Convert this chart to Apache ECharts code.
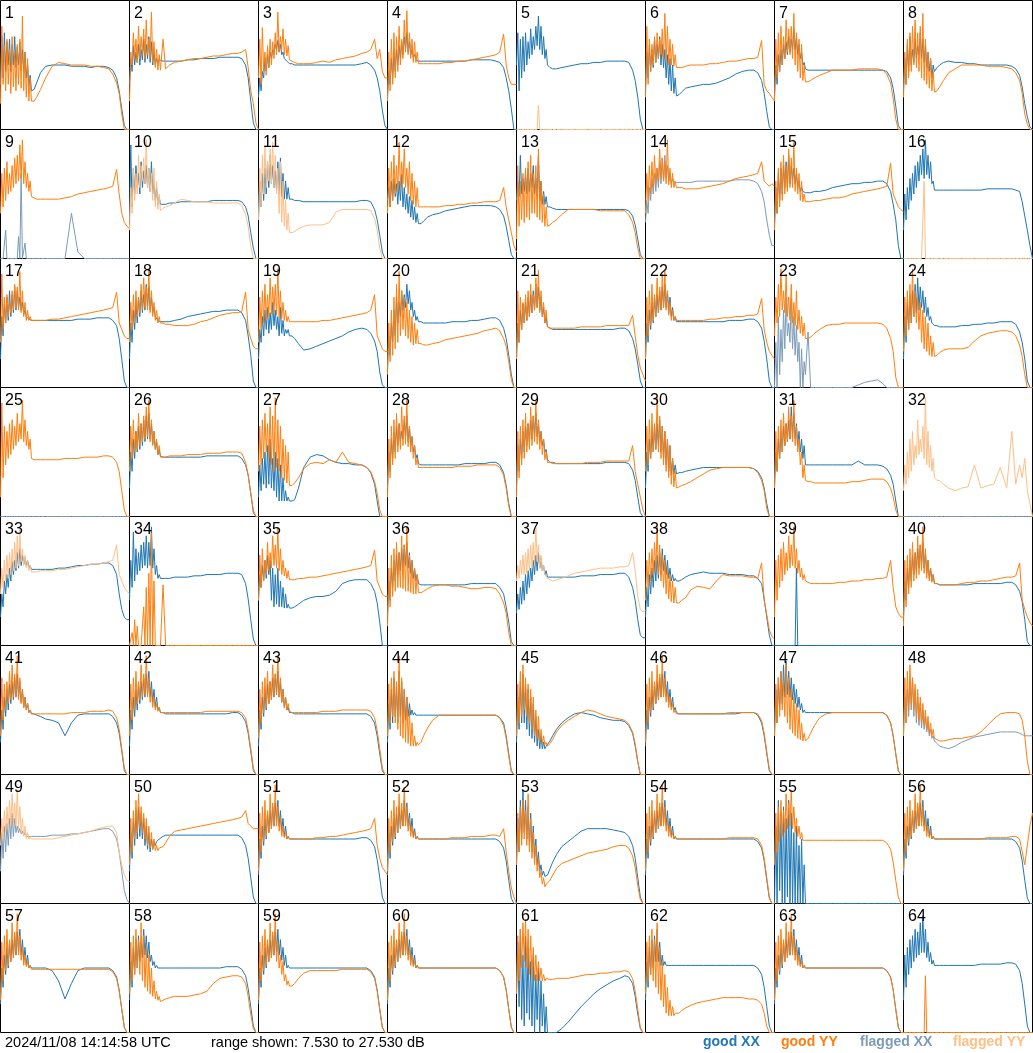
<!DOCTYPE html>
<html><head><meta charset="utf-8">
<script src="https://cdn.jsdelivr.net/npm/echarts/dist/echarts.min.js"></script>
<style>html,body{margin:0;padding:0;background:#fff}#c{width:1033px;height:1053px}</style>
</head><body><div id="c"></div><script>
// x: position in the band (percent); y values: percent of the shown range 7.530–27.530 dB
const channels = [0,1,2,3,4,5,6,7,8,9,10,11,12,13,14,15,16,17,18,19,20,21,22,23,24,26,28,31,35,40,45,50,55,60,65,70,75,80,84,87,90,92,94,96,98,100];

const xx01 = [35,72,40,75,45,68,50,70,45,66,50,72,48,64,50,68,46,62,44,60,40,50,34,42,30, 31,36,44,49,50,50,50,49,49,49,48,49,49,48,46,40,30,16,3,0,0];
const yy01 = [20,80,35,65,30,70,35,62,28,72,33,60,30,66,35,70,32,88,30,60,25,55,22,40,22, 22,25,31,40,49,52,51,50,50,50,49,49,48,47,43,36,28,12,0,0,0];
const xx02 = [35,55,45,65,50,60,52,66,50,62,54,70,52,66,55,72,52,68,50,60,50,55,52,54,53, 53,53,53,53,53,54,54,55,55,55,56,56,56,56,55,50,40,22,5,0,0];
const yy02 = [22,60,50,75,55,70,52,80,55,72,58,78,55,85,58,70,55,91,52,68,48,62,46,58,46, 70,47,50,52,53,54,55,55,56,57,57,58,59,59,60,62,48,30,20,5,0];
const xx03 = [25,40,30,45,40,55,45,58,48,60,55,62,58,66,62,69,60,66,58,60,55,56,53,52,51, 51,50,50,50,50,50,50,50,50,50,50,50,51,52,50,46,40,30,15,3,0];
const yy03 = [40,70,35,79,45,60,42,65,48,70,50,68,55,75,58,91,60,72,62,78,58,70,57,65,54, 53,52,51,51,51,52,53,52,54,55,56,57,59,60,62,70,55,62,45,40,40];
const xx04 = [25,45,35,55,40,60,45,62,50,65,55,68,58,72,62,75,60,68,58,62,56,58,54,54,53, 53,53,53,53,53,53,53,53,53,54,54,54,54,53,52,48,40,30,16,0,0];
const yy04 = [22,60,30,70,35,75,40,72,45,80,50,70,55,85,60,92,58,75,55,70,52,68,52,60,51, 51,51,51,51,51,52,52,53,53,54,55,56,57,58,60,74,50,40,35,35,35];
const xx05 = [50,75,30,70,40,72,45,75,50,68,55,78,58,72,62,80,65,88,62,80,58,72,55,62,50, 48,47,47,48,49,50,51,51,52,52,53,53,53,53,52,46,38,25,8,0,0];
const yy05 = [0,0,0,0,0,0,0,0,0,0,0,0,0,0,0,0,0,19,0,0,0,0,0,0,0, 0,0,0,0,0,0,0,0,0,0,0,0,0,0,0,0,0,0,0,0,0];
const xx06 = [30,60,40,65,45,62,48,70,52,66,55,72,50,66,48,62,40,58,35,55,30,50,28,40,26, 27,29,32,33,34,35,35,36,38,40,43,45,46,46,44,38,28,14,2,0,0];
const yy06 = [25,80,35,70,45,66,50,72,52,75,55,70,58,78,55,90,52,80,50,70,50,66,49,58,48, 48,48,49,50,50,50,51,51,52,53,53,54,55,55,56,69,35,30,28,25,22];
const xx07 = [25,50,35,58,45,62,50,66,55,68,58,72,60,70,62,78,62,72,58,66,55,60,50,52,47, 46,46,46,46,46,46,46,46,46,46,46,46,46,46,45,40,32,18,3,0,0];
const yy07 = [22,70,40,75,45,80,50,72,55,85,60,78,58,80,55,90,50,75,45,70,40,66,38,50,37, 37,38,40,42,44,46,46,46,46,47,47,47,47,46,43,36,24,8,0,0,0];
const xx08 = [30,55,35,66,45,72,50,62,52,70,55,65,58,75,55,70,52,66,48,60,45,55,40,50,45, 48,50,52,53,52,52,51,51,50,50,50,50,50,49,47,42,33,20,10,2,0];
const yy08 = [25,60,35,70,40,75,45,80,50,85,48,75,45,80,40,90,38,70,35,60,32,55,30,45,29, 30,33,38,44,47,50,50,50,50,49,49,49,48,47,44,38,28,12,4,0,0];
const xx09 = [0,0,0,0,22,0,0,0,0,0,0,0,0,0,17,0,66,0,0,12,0,0,0,0,0, 0,0,0,0,0,0,0,35,5,0,0,0,0,0,0,0,0,0,0,0,0];
const yy09 = [35,66,40,70,45,75,50,66,52,72,55,78,58,80,60,88,62,92,58,75,55,66,52,60,48, 47,46,46,46,46,46,47,48,50,51,52,53,54,55,56,69,50,35,28,25,23];
const xx10 = [30,88,40,70,50,72,55,66,50,75,55,68,58,72,55,70,52,75,50,60,45,55,42,48,42, 42,42,43,43,44,44,44,44,44,45,45,45,45,45,44,40,33,20,8,0,0];
const yy10 = [22,55,35,70,45,66,50,80,55,72,60,78,58,92,55,70,52,66,45,70,40,60,38,50,37, 39,40,41,43,46,45,44,44,44,43,43,43,43,43,41,34,25,10,0,0,0];
const xx11 = [30,60,40,66,45,70,50,75,55,80,58,72,55,68,52,75,50,78,48,66,46,60,46,55,46, 46,45,45,44,44,44,44,44,44,44,44,44,45,45,44,38,30,18,5,0,0];
const yy11 = [30,70,40,80,50,88,55,75,60,85,58,90,55,80,50,70,35,75,28,60,25,45,22,35,20, 20,21,23,25,26,26,26,28,36,38,38,38,38,38,37,31,22,8,0,0,0];
const xx12 = [45,55,40,60,45,62,48,58,42,60,45,65,40,55,38,50,35,48,32,45,30,40,28,35,27, 27,29,32,34,35,37,38,39,40,41,41,41,41,40,38,33,25,14,3,0,0];
const yy12 = [35,70,40,75,45,80,50,72,52,90,55,75,58,85,55,70,50,75,45,66,42,60,40,55,40, 40,40,40,40,40,41,41,42,42,43,43,44,44,44,45,55,40,30,20,10,5];
const xx13 = [45,60,48,80,50,62,52,66,50,70,52,66,55,72,50,62,48,80,45,60,42,52,42,48,40, 40,39,38,38,38,38,38,38,38,38,38,38,38,38,37,33,26,15,3,0,0];
const yy13 = [15,72,25,60,30,66,28,70,32,75,30,80,35,66,35,72,32,85,30,60,28,50,25,40,25, 26,28,30,34,38,38,38,38,38,37,37,37,37,37,34,28,20,8,0,0,0];
const xx14 = [28,45,35,55,45,62,50,66,52,70,55,75,58,78,60,80,62,72,60,66,58,62,59,60,59, 59,59,59,59,60,60,60,60,60,60,61,61,61,60,58,52,44,30,18,10,10];
const yy14 = [35,66,45,72,50,75,55,80,58,70,60,85,62,78,60,75,58,92,57,70,55,66,55,60,55, 55,55,54,54,54,55,56,57,58,60,62,63,64,65,66,75,60,58,56,58,56];
const xx15 = [25,55,35,66,45,70,50,72,55,75,55,80,58,72,60,70,58,66,55,60,52,55,52,52,51, 51,51,52,52,53,55,56,57,58,58,59,59,60,60,58,52,42,30,10,0,0];
const yy15 = [22,60,35,70,40,75,45,80,50,72,52,85,55,78,55,90,52,70,50,66,45,60,44,50,44, 44,44,45,45,46,47,47,48,50,51,52,53,54,55,56,74,50,45,40,38,36];
const xx16 = [22,50,30,55,38,62,45,66,50,72,55,75,60,80,65,85,62,92,65,80,62,75,58,60,53, 53,53,53,53,53,53,53,53,53,54,54,54,54,54,53,52,44,33,22,10,0];
const yy16 = [0,0,0,0,0,0,0,0,0,0,0,0,0,0,0,0,60,0,0,0,0,0,0,0,0, 0,0,0,0,0,0,0,0,0,0,0,0,0,0,0,0,0,0,0,0,0];
const xx17 = [22,55,40,65,50,70,52,75,55,72,58,78,60,75,62,70,60,66,57,60,55,56,53,53,52, 52,52,52,52,52,52,52,52,53,53,53,54,54,54,52,48,38,22,5,0,0];
const yy17 = [35,88,45,70,50,72,55,66,58,75,60,80,62,78,60,90,58,75,55,66,52,60,52,55,52, 52,52,52,52,53,53,54,55,56,57,58,59,60,61,62,74,50,45,40,38,38];
const xx18 = [22,50,35,60,45,66,50,70,55,75,58,72,60,80,62,78,60,70,58,62,55,56,52,52,51, 51,51,51,52,53,55,56,57,58,59,59,60,60,60,58,52,40,25,5,0,0];
const yy18 = [35,66,45,72,50,75,55,70,58,80,60,85,62,78,60,92,58,75,55,66,52,60,50,55,50, 50,49,49,48,48,48,49,51,52,54,56,57,58,58,59,74,45,38,32,30,30];
const xx19 = [22,45,35,55,40,60,45,62,42,58,45,66,48,60,45,55,40,62,42,52,40,45,42,45,40, 40,38,34,29,30,32,34,36,38,40,43,45,46,45,42,36,28,12,2,0,0];
const yy19 = [35,70,45,75,50,80,52,72,55,85,57,78,58,80,56,92,55,75,53,66,52,60,51,55,51, 51,51,51,51,51,51,52,52,53,54,55,56,57,58,60,72,40,35,30,28,28];
const xx20 = [15,40,25,50,35,60,40,70,50,66,55,75,60,72,62,80,65,75,60,66,55,60,52,55,51, 51,50,50,50,50,50,51,51,51,52,52,53,54,54,52,46,38,25,10,0,0];
const yy20 = [10,50,20,60,25,70,30,80,35,90,40,75,45,70,40,66,38,60,35,55,33,50,34,45,34, 34,33,33,34,35,37,38,39,40,41,42,44,45,46,44,38,32,20,6,0,0];
const xx21 = [22,50,35,60,45,65,50,66,52,70,55,72,58,75,60,80,62,78,60,70,55,62,50,55,47, 46,45,45,45,45,45,45,45,45,45,45,45,46,46,44,38,30,18,5,0,0];
const yy21 = [22,75,35,70,45,66,50,72,52,75,55,80,58,72,60,85,62,91,58,75,55,66,50,60,47, 46,46,46,46,46,46,47,47,47,47,48,48,48,48,48,56,40,25,15,10,5];
const xx22 = [22,50,35,60,45,66,50,70,55,72,58,75,60,78,62,80,62,75,58,70,55,62,52,55,51, 51,51,51,51,51,51,51,51,51,52,52,52,53,53,51,46,36,22,5,0,0];
const yy22 = [22,70,40,75,48,80,52,72,55,85,58,78,60,88,62,91,60,75,56,66,52,60,52,55,52, 52,52,52,52,52,52,53,53,54,54,55,55,56,56,57,69,45,35,28,25,22];
const xx23 = [0,35,0,55,10,45,20,60,30,70,40,50,35,69,30,55,25,48,20,35,0,30,0,20,10, 43,0,0,0,0,0,0,0,0,2,4,5,6,3,0,0,0,0,0,0,0];
const yy23 = [40,70,50,80,55,92,60,75,58,88,55,70,52,80,50,66,48,75,45,60,42,55,40,50,38, 38,39,42,45,48,49,49,50,50,50,50,50,50,49,46,38,28,8,0,0,0];
const xx24 = [22,55,35,66,45,72,50,75,55,80,58,85,60,78,62,75,58,70,55,62,52,55,50,50,48, 48,47,47,47,47,48,48,49,49,50,50,51,51,51,49,43,35,22,5,0,0];
const yy24 = [28,70,40,75,45,80,50,92,55,75,50,70,45,66,35,60,30,55,28,50,25,40,24,35,24, 25,27,29,30,30,30,31,36,40,42,43,44,44,43,40,33,24,10,0,0,0];
const xx25 = [0,0,0,0,0,0,0,0,0,0,0,0,0,0,0,0,0,0,0,0,0,0,0,0,0, 0,0,0,0,0,0,0,0,0,0,0,0,0,0,0,0,0,0,0,0,0];
const yy25 = [15,88,30,70,40,66,45,72,48,75,52,70,55,80,58,72,60,90,58,75,55,66,52,60,45, 44,44,44,44,44,44,45,45,45,46,46,46,47,47,46,42,35,20,5,0,0];
const xx26 = [22,50,35,60,45,66,50,70,52,72,55,75,58,78,60,80,60,72,56,66,52,58,48,52,47, 46,46,46,46,46,46,46,46,47,47,47,47,47,47,45,40,32,18,3,0,0];
const yy26 = [35,70,45,75,50,66,52,80,55,72,58,78,60,85,62,90,58,75,55,66,52,60,48,55,46, 46,46,47,47,47,48,48,48,49,49,49,50,50,50,49,42,32,18,5,0,0];
const xx27 = [15,40,20,45,25,50,22,55,25,60,22,45,20,50,15,45,12,40,12,30,12,20,12,15,12, 12,13,22,38,46,48,47,44,42,41,41,40,40,38,34,25,12,0,0,0,0];
const yy27 = [35,70,40,75,45,80,50,72,45,85,40,78,35,92,38,75,35,70,30,60,28,55,26,50,24, 24,26,30,37,41,42,41,44,42,50,42,41,40,38,35,27,18,5,0,0,0];
const xx28 = [22,50,35,60,45,65,50,70,55,72,58,66,60,75,62,78,58,70,55,62,50,55,45,48,41, 40,40,40,40,40,40,40,40,41,41,41,41,42,42,40,34,24,10,0,0,0];
const yy28 = [15,60,30,70,40,75,45,80,50,72,52,85,55,78,56,90,54,70,50,62,45,55,40,45,38, 38,38,38,38,38,38,38,39,39,39,40,40,40,40,38,32,22,8,0,0,0];
const xx29 = [22,55,35,60,45,66,50,70,55,72,58,75,60,78,62,80,62,72,58,66,55,60,50,52,44, 42,42,41,41,41,41,41,41,41,41,42,42,42,42,41,36,28,15,3,0,0];
const yy29 = [15,66,30,70,40,75,45,80,50,72,52,85,55,78,58,90,56,75,52,66,48,60,44,50,42, 42,41,41,41,41,41,41,42,42,42,43,43,43,43,43,55,35,25,15,5,0];
const xx30 = [22,50,35,60,45,66,50,70,52,72,55,75,50,70,45,66,40,60,35,55,32,45,33,40,33, 34,34,35,36,37,38,38,38,38,38,38,38,38,37,35,30,22,10,0,0,0];
const yy30 = [35,70,40,75,45,80,50,72,52,92,50,78,45,70,40,66,35,60,30,55,25,45,23,35,22, 23,24,25,27,30,33,36,37,38,38,38,38,38,37,34,28,20,6,0,0,0];
const xx31 = [22,50,35,60,45,66,50,70,55,72,58,75,60,85,62,80,60,72,55,66,50,60,45,55,40, 40,40,40,40,40,40,40,40,40,43,40,40,40,39,37,32,25,12,0,0,0];
const yy31 = [22,66,35,70,45,75,50,80,55,72,58,85,60,78,58,90,55,70,50,60,40,50,30,40,28, 27,27,26,26,26,26,26,26,27,27,28,29,29,29,27,22,15,5,0,0,0];
const xx32 = [0,0,0,0,0,0,0,0,0,0,0,0,0,0,0,0,0,0,0,0,0,0,0,0,0, 0,0,0,0,0,0,0,0,0,0,0,0,0,0,0,0,0,0,0,0,0];
const yy32 = [20,40,25,50,30,60,35,66,40,55,45,75,48,60,50,70,45,92,40,66,38,55,35,45,30, 28,28,25,22,20,22,23,40,22,24,25,38,22,66,25,40,30,45,20,10,0];
const xx33 = [22,40,30,50,40,55,45,60,50,65,55,66,58,72,60,75,62,70,63,68,62,66,60,62,59, 59,59,59,59,59,60,60,61,62,62,63,63,64,64,62,55,40,28,22,20,20];
const yy33 = [40,60,45,66,50,70,52,72,55,75,58,80,60,85,62,90,65,75,62,70,60,66,58,62,57, 57,57,58,58,58,59,59,60,61,62,63,63,64,65,66,78,55,50,45,42,40];
const xx34 = [35,66,45,88,50,75,55,72,58,78,60,80,62,85,60,80,62,92,60,75,55,62,52,55,52, 52,52,52,53,53,53,54,54,55,55,55,56,56,56,55,48,36,20,5,0,0];
const yy34 = [0,0,10,0,20,0,15,0,0,0,0,30,0,45,0,56,0,87,0,50,0,0,0,0,0, 47,0,0,0,0,0,0,0,0,0,0,0,0,0,0,0,0,0,0,0,0];
const xx35 = [35,55,45,62,50,66,52,70,55,66,35,60,30,55,32,60,30,50,30,45,29,40,29,32,29, 29,30,32,35,37,38,38,39,42,48,50,51,51,51,48,42,33,18,0,0,0];
const yy35 = [35,70,45,75,50,66,55,80,58,72,60,85,62,78,60,91,58,75,55,66,54,60,52,58,51, 51,51,52,52,53,53,54,55,56,57,58,59,60,61,62,74,50,45,40,38,38];
const xx36 = [22,50,35,60,45,66,50,70,55,72,58,75,60,78,62,80,60,72,56,66,52,60,50,55,48, 47,47,47,47,47,47,47,47,47,48,48,48,48,48,45,40,30,18,3,0,0];
const yy36 = [15,60,30,70,38,75,42,80,45,72,45,85,44,78,42,92,42,70,41,66,40,60,40,55,41, 41,42,44,46,47,47,46,46,45,44,44,45,45,44,40,33,25,10,0,0,0];
const xx37 = [25,40,28,45,32,50,35,55,40,58,45,60,50,66,55,70,58,72,60,68,58,62,55,58,53, 53,53,53,53,53,53,54,54,54,55,55,55,56,56,53,45,35,20,8,6,6];
const yy37 = [50,62,52,66,55,70,55,72,56,75,58,78,60,80,62,92,65,78,60,70,58,62,55,56,52, 51,50,51,52,54,56,57,58,59,60,60,60,61,61,62,72,58,38,28,26,27];
const xx38 = [22,45,30,55,40,60,45,66,50,70,52,72,55,75,58,70,55,66,52,60,50,55,50,52,50, 50,51,53,55,56,57,56,56,56,55,55,55,54,54,52,48,36,22,8,0,0];
const yy38 = [35,66,45,72,50,75,55,80,58,92,55,78,50,70,45,66,40,60,36,55,34,50,33,45,33, 33,35,37,43,46,45,44,50,55,54,54,54,53,53,52,64,35,24,12,7,5];
const xx39 = [0,0,0,0,0,0,0,0,0,0,0,0,0,0,0,0,0,60,0,0,0,0,0,0,0, 0,0,0,0,0,0,0,0,0,0,0,0,0,0,0,0,0,0,0,0,0];
const yy39 = [22,66,35,70,45,75,50,80,55,72,58,85,60,78,62,92,60,75,56,66,53,60,51,55,50, 49,48,48,48,48,48,49,49,50,50,51,51,52,52,53,66,45,30,25,22,22];
const xx40 = [22,50,35,60,45,66,50,70,55,72,58,75,60,78,62,80,60,72,56,66,52,60,50,55,48, 48,47,47,47,47,47,47,48,48,48,48,48,49,49,47,42,34,20,3,0,0];
const yy40 = [15,66,30,70,40,75,45,80,50,72,52,85,55,78,58,92,56,75,52,66,50,60,49,55,48, 48,47,47,47,47,48,49,49,50,50,51,52,53,53,54,64,35,28,22,18,15];
const xx41 = [25,50,35,60,45,66,50,70,55,72,58,75,60,78,60,72,56,66,52,60,50,55,48,50,47, 47,46,45,43,42,40,30,40,46,47,47,47,47,47,45,40,32,18,3,0,0];
const yy41 = [30,75,42,70,50,72,55,80,58,85,60,78,60,92,58,75,55,66,52,60,50,55,48,50,47, 47,47,47,47,47,47,47,48,48,48,49,49,49,50,49,44,35,20,5,0,0];
const xx42 = [22,50,35,60,45,66,50,70,55,72,58,75,60,78,62,80,60,72,56,66,52,60,50,52,48, 48,47,47,47,47,47,47,47,47,47,47,47,48,48,46,41,32,18,3,0,0];
const yy42 = [30,70,42,75,50,80,55,72,58,85,60,78,62,92,60,75,56,66,52,60,50,55,49,52,48, 48,48,48,48,48,48,48,48,49,49,49,49,49,49,48,44,34,20,5,0,0];
const xx43 = [22,50,35,60,45,66,50,70,55,72,58,75,60,78,62,80,60,72,56,66,52,60,50,52,48, 48,47,47,47,47,47,47,47,47,47,47,47,47,47,45,40,30,16,3,0,0];
const yy43 = [28,66,40,72,48,75,52,80,55,72,58,85,60,78,62,92,60,75,56,66,52,60,50,55,49, 48,48,48,48,48,48,49,49,49,50,50,50,50,50,49,44,34,20,5,0,0];
const xx44 = [25,55,35,66,40,75,45,70,40,80,45,72,40,66,42,60,45,55,46,50,46,48,46,47,46, 46,46,46,46,46,46,46,46,46,46,46,46,46,46,44,40,30,16,3,0,0];
const yy44 = [30,70,40,75,45,80,40,72,35,92,30,75,28,66,25,60,24,50,22,40,22,30,22,25,23, 25,30,36,42,46,46,46,46,46,46,46,46,46,46,44,38,28,14,2,0,0];
const xx45 = [25,60,35,72,40,78,40,70,35,66,30,60,28,55,25,45,22,35,20,30,20,25,20,22,22, 26,30,35,40,44,47,48,47,46,44,43,42,42,41,38,32,22,10,0,0,0];
const yy45 = [30,70,40,80,45,85,50,75,45,70,40,66,35,60,30,50,28,45,25,35,24,30,23,25,22, 24,27,33,38,42,45,48,50,49,47,45,44,43,42,39,33,24,10,0,0,0];
const xx46 = [22,50,35,60,45,66,50,70,55,72,58,75,60,78,62,80,60,72,56,66,52,60,50,52,48, 47,47,47,47,47,47,47,47,47,47,47,48,48,48,46,40,30,16,3,0,0];
const yy46 = [25,70,40,75,48,80,52,72,55,85,58,78,60,92,60,75,56,66,52,60,50,55,48,50,47, 47,47,47,47,47,47,47,47,47,48,48,48,48,48,47,42,32,18,4,0,0];
const xx47 = [30,66,40,75,50,80,55,85,60,88,62,80,60,75,58,70,55,66,52,60,50,55,48,50,48, 48,48,48,48,48,48,48,48,48,48,48,48,48,48,46,40,30,16,3,0,0];
const yy47 = [30,70,40,75,45,80,50,72,45,85,40,75,35,66,32,60,30,55,28,50,27,40,26,32,26, 28,32,38,44,47,48,48,48,48,48,48,48,48,48,46,40,30,16,3,0,0];
const xx48 = [30,60,40,66,45,72,50,75,45,66,40,60,38,55,36,50,35,45,33,40,30,35,28,30,26, 24,22,21,20,22,25,27,29,30,31,32,33,33,33,33,32,31,30,30,30,30];
const yy48 = [30,75,40,80,50,85,55,75,50,70,45,66,42,60,40,55,38,50,35,45,32,40,30,35,28, 27,26,26,27,28,28,29,30,33,38,43,47,48,48,48,47,42,30,10,0,0];
const xx49 = [25,55,35,60,40,62,45,66,50,70,52,66,55,60,55,58,54,56,53,55,52,53,52,53,52, 52,52,52,52,53,53,53,54,54,55,56,57,58,58,56,50,40,25,10,3,0];
const yy49 = [45,66,50,72,55,75,58,80,60,85,62,78,60,88,58,75,55,66,52,60,50,55,50,52,50, 50,50,50,50,50,51,52,53,54,55,56,58,59,60,60,55,40,30,22,18,17];
const xx50 = [25,55,35,66,45,72,50,75,52,70,50,66,45,60,42,55,40,50,42,48,45,48,48,50,50, 52,53,53,53,53,53,53,53,53,53,53,53,53,53,51,45,35,20,5,0,0];
const yy50 = [30,66,40,72,50,80,55,85,58,75,55,70,50,66,45,60,43,55,42,50,41,45,41,43,42, 44,47,52,56,57,58,59,60,61,62,63,64,65,66,67,72,62,60,58,58,58];
const xx51 = [22,50,35,60,45,66,50,70,55,72,58,75,60,78,62,80,60,72,56,66,52,60,50,52,50, 50,50,50,50,50,50,50,50,50,50,50,50,51,51,49,44,34,20,5,0,0];
const yy51 = [25,70,40,75,48,80,52,72,55,85,58,78,60,92,60,75,56,66,52,60,51,55,50,52,50, 50,50,50,50,50,51,51,52,52,53,54,55,56,57,58,66,45,35,28,25,22];
const xx52 = [22,55,35,60,45,66,50,70,55,75,58,72,60,80,62,78,60,70,56,66,52,58,50,52,50, 50,50,50,50,50,50,50,50,50,50,50,50,50,50,48,43,33,18,4,0,0];
const yy52 = [25,66,40,72,48,80,52,75,55,85,58,78,60,90,60,75,56,66,52,60,51,55,50,52,50, 50,50,50,50,50,50,51,51,51,52,52,52,53,53,52,58,40,25,12,5,0];
const xx53 = [30,66,40,80,50,88,55,80,50,75,45,70,40,60,35,50,30,40,25,30,22,25,21,22,22, 27,32,38,44,48,52,56,58,58,58,58,57,56,55,52,45,35,20,5,0,0];
const yy53 = [30,70,40,75,45,80,50,72,45,85,40,66,35,55,30,45,25,35,20,25,15,20,13,15,14, 18,22,27,31,33,35,37,39,40,41,42,44,45,45,43,37,28,14,3,0,0];
const xx54 = [22,50,35,60,45,66,50,70,55,72,58,75,60,78,62,80,60,72,56,66,52,60,50,52,50, 50,50,50,50,50,50,50,50,50,50,50,50,50,50,48,43,33,18,4,0,0];
const yy54 = [25,70,40,75,48,80,52,72,55,85,58,78,60,92,60,75,56,66,52,60,51,55,50,52,50, 50,50,50,50,50,50,50,50,50,51,51,51,51,51,50,45,35,20,5,0,0];
const xx55 = [0,60,0,80,10,70,0,75,0,66,5,80,0,70,0,55,0,60,0,45,0,50,0,30,0, 0,0,0,0,0,0,0,0,0,0,0,0,0,0,0,0,0,0,0,0,0];
const yy55 = [30,70,40,75,48,80,52,72,55,85,58,78,60,88,58,75,55,66,52,60,50,55,49,50,49, 49,49,49,49,49,49,49,49,49,49,49,49,49,49,47,42,32,18,5,0,0];
const xx56 = [22,50,35,60,45,66,50,70,55,72,58,75,60,78,62,80,60,72,56,66,52,60,50,52,50, 50,50,50,50,50,50,50,50,50,50,50,50,50,50,48,43,33,18,4,0,0];
const yy56 = [25,70,40,75,48,80,52,72,55,85,58,78,60,92,60,75,56,66,52,60,51,55,50,52,50, 50,50,50,50,50,50,50,50,50,51,51,51,51,52,52,50,40,30,45,60,70];
const xx57 = [22,50,35,60,45,66,50,70,55,72,58,75,60,78,62,80,60,72,56,66,52,60,50,52,50, 50,50,50,50,48,40,26,38,48,50,50,50,50,50,48,43,33,18,4,0,0];
const yy57 = [25,70,40,75,48,80,52,72,55,85,58,78,60,92,60,75,56,66,52,60,51,55,50,52,49, 49,49,49,49,49,49,49,49,49,49,49,49,49,49,47,42,32,18,4,0,0];
const xx58 = [25,55,35,66,45,72,50,75,55,70,58,80,60,75,58,70,55,60,52,55,50,52,50,50,50, 50,50,50,50,50,50,50,50,50,50,50,51,51,51,49,44,34,20,5,0,0];
const yy58 = [30,70,40,75,45,80,50,72,45,85,40,75,35,66,32,60,30,50,28,40,26,32,25,28,24, 25,26,27,28,28,28,29,30,32,38,42,43,44,44,43,38,28,14,3,0,0];
const xx59 = [22,50,35,60,45,66,50,70,55,72,58,75,60,78,62,80,60,72,56,66,52,60,50,52,50, 50,50,50,50,50,50,50,50,50,50,50,50,50,50,48,43,33,18,4,0,0];
const yy59 = [25,70,40,75,48,80,52,72,55,85,58,78,60,92,55,70,50,60,45,55,40,45,37,40,36, 36,38,42,46,48,48,48,48,48,49,49,49,49,49,47,42,32,18,4,0,0];
const xx60 = [22,50,35,60,45,66,50,70,55,72,58,75,60,78,62,80,60,72,56,66,52,60,50,52,50, 50,50,50,50,50,50,50,50,50,50,50,50,50,50,48,43,33,18,4,0,0];
const yy60 = [25,70,40,75,48,80,52,72,55,85,58,78,60,92,60,75,56,66,52,60,51,55,50,52,50, 50,50,50,50,50,50,50,50,50,50,50,50,50,50,48,43,33,18,4,0,0];
const xx61 = [30,70,20,80,10,60,5,75,15,66,10,55,5,60,0,45,10,50,0,40,5,30,0,20,0, 0,0,0,3,8,14,20,25,30,34,37,40,42,44,43,38,28,14,3,0,0];
const yy61 = [30,75,40,80,50,85,55,88,50,80,45,75,42,66,40,60,40,55,40,50,40,45,40,42,41, 41,41,42,42,42,43,44,45,45,46,46,47,47,48,47,42,32,18,4,0,0];
const xx62 = [25,55,35,66,45,72,50,75,55,80,55,70,52,60,52,55,52,53,52,52,52,52,52,52,52, 52,52,52,52,52,52,52,52,52,52,52,52,52,52,50,45,35,20,5,0,0];
const yy62 = [30,70,40,75,45,80,40,72,35,85,30,66,25,55,20,45,15,35,13,25,13,20,13,15,14, 15,17,19,21,23,24,25,26,27,27,27,27,26,26,25,22,15,5,0,0,0];
const xx63 = [22,50,35,60,45,66,50,70,55,72,58,75,60,78,62,80,60,72,56,66,52,60,50,52,50, 50,50,50,50,50,50,50,50,50,50,50,50,50,50,48,43,33,18,4,0,0];
const yy63 = [25,70,40,75,48,80,52,72,55,85,58,78,60,92,60,75,56,66,52,60,51,55,50,52,50, 50,50,50,50,50,50,50,50,50,50,50,50,50,50,48,43,33,18,4,0,0];
const xx64 = [25,60,35,66,45,72,50,75,55,80,58,78,60,85,62,90,62,80,58,70,55,62,53,56,52, 52,52,52,52,52,52,52,52,53,53,53,53,54,54,53,48,38,22,5,0,0];
const yy64 = [0,0,0,0,0,0,0,0,0,0,0,0,0,0,0,0,0,44,0,0,0,0,0,0,0, 0,0,0,0,0,0,0,0,0,0,0,0,0,0,0,0,0,0,0,0,0];

const xxData = [xx01,xx02,xx03,xx04,xx05,xx06,xx07,xx08,xx09,xx10,xx11,xx12,xx13,xx14,xx15,xx16,xx17,xx18,xx19,xx20,xx21,xx22,xx23,xx24,xx25,xx26,xx27,xx28,xx29,xx30,xx31,xx32,xx33,xx34,xx35,xx36,xx37,xx38,xx39,xx40,xx41,xx42,xx43,xx44,xx45,xx46,xx47,xx48,xx49,xx50,xx51,xx52,xx53,xx54,xx55,xx56,xx57,xx58,xx59,xx60,xx61,xx62,xx63,xx64];
const yyData = [yy01,yy02,yy03,yy04,yy05,yy06,yy07,yy08,yy09,yy10,yy11,yy12,yy13,yy14,yy15,yy16,yy17,yy18,yy19,yy20,yy21,yy22,yy23,yy24,yy25,yy26,yy27,yy28,yy29,yy30,yy31,yy32,yy33,yy34,yy35,yy36,yy37,yy38,yy39,yy40,yy41,yy42,yy43,yy44,yy45,yy46,yy47,yy48,yy49,yy50,yy51,yy52,yy53,yy54,yy55,yy56,yy57,yy58,yy59,yy60,yy61,yy62,yy63,yy64];
const flaggedXX = [9,14,23,25,32,48,49];
const flaggedYY = [5,10,11,16,32,33,37,49];
const timestampText = '2024/11/08 14:14:58 UTC';
const rangeText = 'range shown: 7.530 to 27.530 dB';
const legendLabels = ['good XX','good YY','flagged XX','flagged YY'];

const COL = {goodXX:'#1f77b4', goodYY:'#ff7f0e', flagXX:'#7b9bb9', flagYY:'#ffbf86'};
const PANEL = 129, NCOL = 8;
const grids = [], xAxes = [], yAxes = [], series = [], graphics = [];
for (let k = 0; k < 64; k++) {
  const c = k % NCOL, r = Math.floor(k / NCOL), n = k + 1;
  grids.push({left: PANEL*c + 0.5, top: PANEL*r + 0.5, width: PANEL, height: PANEL, show: true,
    borderColor: '#000', borderWidth: 1, backgroundColor: '#fff'});
  xAxes.push({type: 'value', gridIndex: k, min: 0, max: 100, show: false});
  yAxes.push({type: 'value', gridIndex: k, min: 0, max: 100, show: false});
  if (xxData[k].length !== channels.length || yyData[k].length !== channels.length) console.error('length', n);
  series.push({type: 'line', xAxisIndex: k, yAxisIndex: k, symbol: 'none', silent: true, animation: false, z: 2,
    data: channels.map((x, j) => [x, xxData[k][j]]),
    lineStyle: {width: 1, color: flaggedXX.includes(n) ? COL.flagXX : COL.goodXX}});
  series.push({type: 'line', xAxisIndex: k, yAxisIndex: k, symbol: 'none', silent: true, animation: false, z: 3,
    data: channels.map((x, j) => [x, yyData[k][j]]),
    lineStyle: {width: 1, color: flaggedYY.includes(n) ? COL.flagYY : COL.goodYY}});
  graphics.push({type: 'text', x: PANEL*c + 5, y: PANEL*r + 6, z: 100, silent: true,
    style: {text: String(n), font: '16px "Liberation Sans", Arial, sans-serif', fill: '#000', verticalAlign: 'top', align: 'left'}});
}
const footY = 1035;
graphics.push({type: 'text', x: 5, y: footY, style: {text: timestampText, font: '14.5px "Liberation Sans", Arial, sans-serif', fill: '#000', verticalAlign: 'top'}});
graphics.push({type: 'text', x: 211, y: footY, style: {text: rangeText, font: '14.5px "Liberation Sans", Arial, sans-serif', fill: '#000', verticalAlign: 'top'}});
const legX = [703, 781, 860, 953];
const legC = [COL.goodXX, COL.goodYY, COL.flagXX, COL.flagYY];
legendLabels.forEach((t, i) => graphics.push({type: 'text', x: legX[i], y: footY,
  style: {text: t, font: 'bold 14px "Liberation Sans", Arial, sans-serif', fill: legC[i], verticalAlign: 'top'}}));

const chart = echarts.init(document.getElementById('c'), null, {renderer: 'canvas'});
chart.setOption({animation: false, backgroundColor: '#fff', grid: grids, xAxis: xAxes, yAxis: yAxes, series: series, graphic: graphics});
</script></body></html>
